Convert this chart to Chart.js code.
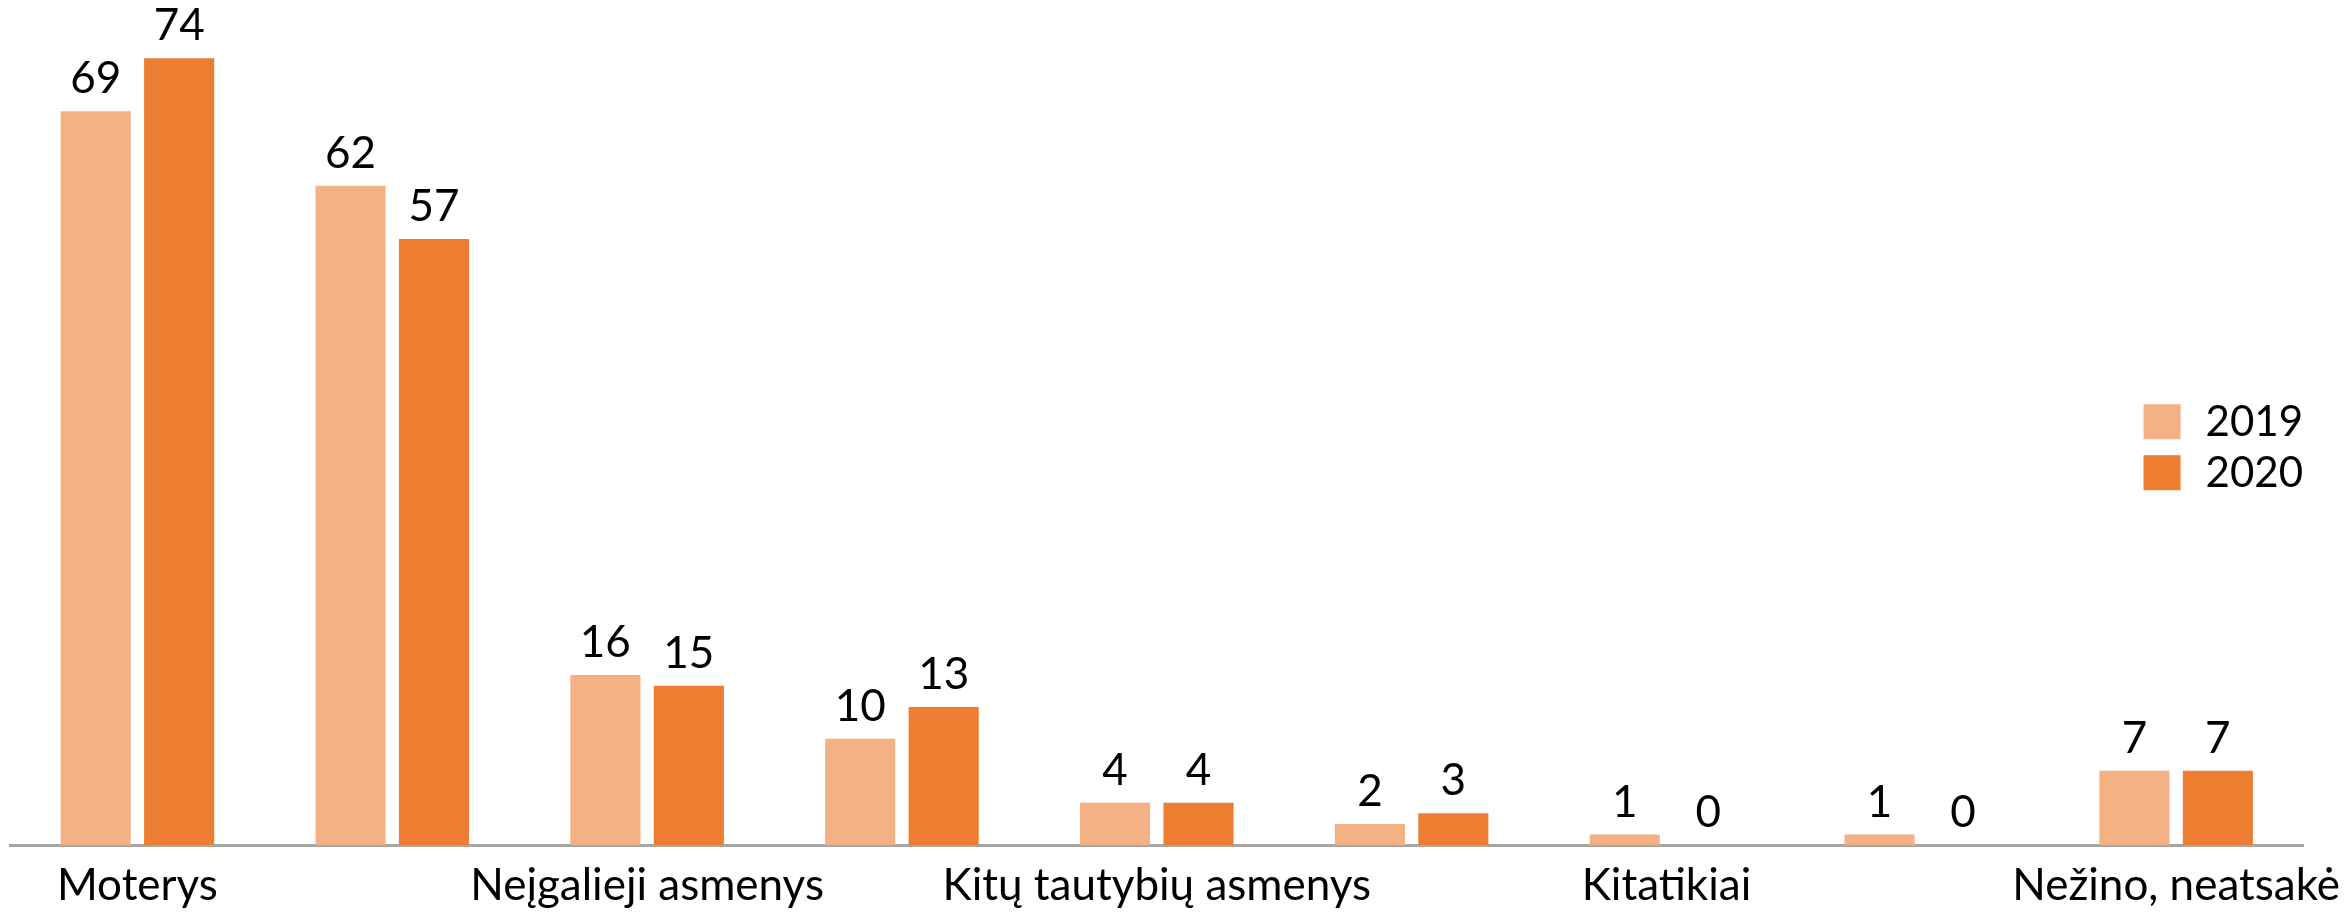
<!DOCTYPE html>
<html>
<head>
<meta charset="utf-8">
<script src="https://cdn.jsdelivr.net/npm/chart.js@4"></script>
<style>
  html, body { margin: 0; padding: 0; background: #fff; overflow: hidden; }
  /* slightly larger than the window: the original crops its last label and the descenders */
  #wrap { width: 2346px; height: 918px; position: relative; }
</style>
</head>
<body>
<div id="wrap"><canvas id="chart"></canvas></div>
<script>
// only every other category label is shown in the original
const categories = ['Moterys', '', 'Neįgalieji asmenys', '', 'Kitų tautybių asmenys', '', 'Kitatikiai', '', 'Nežino, neatsakė'];
const years = ['2019', '2020'];
const values2019 = [69, 62, 16, 10, 4, 2, 1, 1, 7];
const values2020 = [74, 57, 15, 13, 4, 3, 0, 0, 7];

const colors = ['#F4B183', '#ED7D31'];
const fontFamily = 'Lato, "Open Sans", sans-serif';

// numbers above the bars
const valueLabels = {
  id: 'valueLabels',
  afterDatasetsDraw(chart) {
    const ctx = chart.ctx;
    ctx.save();
    ctx.font = '44px ' + fontFamily;
    ctx.fillStyle = '#000';
    ctx.textAlign = 'center';
    ctx.textBaseline = 'alphabetic';
    chart.data.datasets.forEach((ds, i) => {
      chart.getDatasetMeta(i).data.forEach((bar, j) => {
        ctx.fillText(String(ds.data[j]), bar.x, bar.y - 18);
      });
    });
    ctx.restore();
  },
};

// legend sits inside the plot, on the right
const sideLegend = {
  id: 'sideLegend',
  afterDraw(chart) {
    const ctx = chart.ctx;
    const area = chart.chartArea;
    ctx.save();
    ctx.font = '42px ' + fontFamily;
    ctx.textBaseline = 'middle';
    ctx.textAlign = 'left';
    chart.data.datasets.forEach((ds, i) => {
      const x = area.right - 160;
      const y = area.bottom - 441 + i * 51;
      ctx.fillStyle = ds.backgroundColor;
      ctx.fillRect(x, y, 37, 35);
      ctx.fillStyle = '#000';
      ctx.fillText(ds.label, x + 62, y + 18);
    });
    ctx.restore();
  },
};

new Chart(document.getElementById('chart'), {
  type: 'bar',
  data: {
    labels: categories,
    datasets: [
      { label: years[0], data: values2019, backgroundColor: colors[0] },
      { label: years[1], data: values2020, backgroundColor: colors[1] },
    ],
  },
  options: {
    responsive: true,
    maintainAspectRatio: false,
    animation: false,
    layout: { padding: { top: 5, left: 10 } },
    datasets: {
      bar: { categoryPercentage: 0.655, barPercentage: 0.84 },
    },
    plugins: {
      legend: { display: false },
      tooltip: { enabled: false },
    },
    scales: {
      x: {
        grid: { display: false },
        border: { color: '#a6a6a6', width: 3 },
        ticks: {
          autoSkip: false,
          maxRotation: 0,
          color: '#000',
          padding: 6,
          font: { family: fontFamily, size: 44 },
        },
      },
      y: {
        display: false,
        min: 0,
        max: 79,
      },
    },
  },
  plugins: [valueLabels, sideLegend],
});
</script>
</body>
</html>
